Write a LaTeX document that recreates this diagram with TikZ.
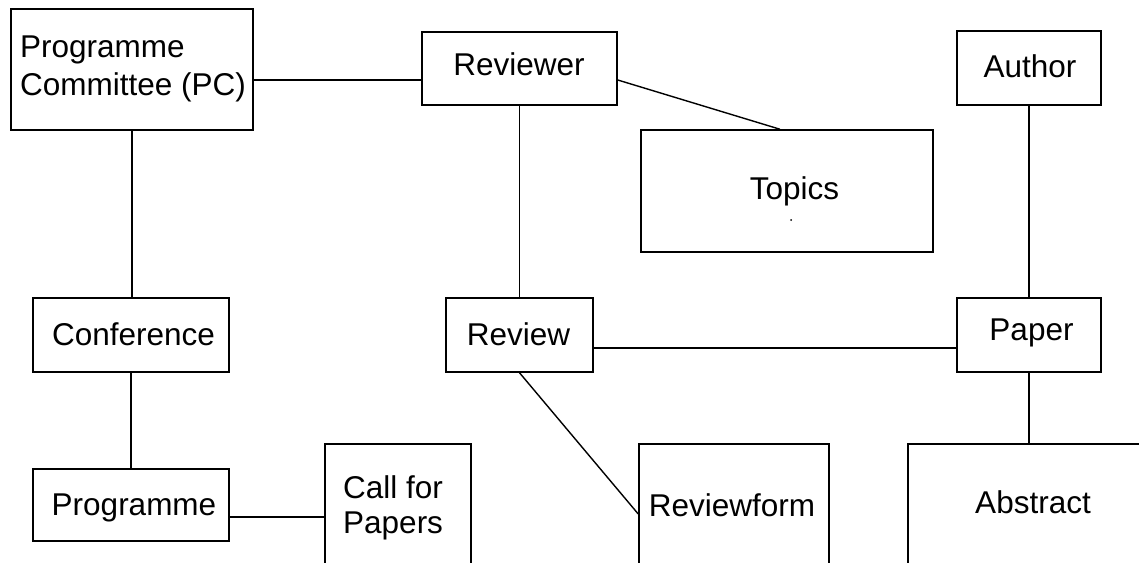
\documentclass[tikz,border=0pt]{standalone}
\usepackage{fontspec}
\setmainfont{Liberation Sans}
\begin{document}
\begin{tikzpicture}[x=1pt,y=-1pt,
  box/.style={draw, line width=1.5pt, inner sep=0pt},
  link/.style={line width=1.4pt},
  lbl/.style={anchor=base, inner sep=0pt, font=\fontsize{31.5}{38}\selectfont}]
\useasboundingbox (0,0) rectangle (1139,562);
\clip (0,0) rectangle (1139,562);

% entity boxes
\node[box, minimum width=242pt, minimum height=121pt] (pc) at (132,69.5) {};
\node[box, minimum width=195pt, minimum height=73pt] (reviewer) at (519.5,68.5) {};
\node[box, minimum width=144pt, minimum height=74pt] (author) at (1029,68) {};
\node[box, minimum width=292pt, minimum height=122pt] (topics) at (787,191) {};
\node[box, minimum width=196pt, minimum height=74pt] (conference) at (131,335) {};
\node[box, minimum width=147pt, minimum height=74pt] (review) at (519.5,335) {};
\node[box, minimum width=144pt, minimum height=74pt] (paper) at (1029,335) {};
\node[box, minimum width=196pt, minimum height=72pt] (programme) at (131,505) {};
\node[box, minimum width=146pt, minimum height=156pt] (cfp) at (398,522) {};
\node[box, minimum width=190pt, minimum height=156pt] (reviewform) at (734,522) {};
\node[box, minimum width=252pt, minimum height=156pt] (abstract) at (1034,522) {};

% labels
\node[lbl, anchor=base west] (pcA) at (20,57) {Programme};
\node[lbl, anchor=base west] (pcB) at (20,95) {Committee (PC)};
\node[lbl] (reviewerT) at (519,75) {Reviewer};
\node[lbl] (authorT) at (1030,77) {Author};
\node[lbl] (topicsT) at (794.5,199) {Topics};
\fill (791,220) circle (1pt);
\node[lbl] (conferenceT) at (133.5,345) {Conference};
\node[lbl] (reviewT) at (518.5,345) {Review};
\node[lbl] (paperT) at (1031.5,340) {Paper};
\node[lbl] (programmeT) at (134,515) {Programme};
\node[lbl, anchor=base west] (cfpA) at (343,498) {Call for};
\node[lbl, anchor=base west] (cfpB) at (343,533) {Papers};
\node[lbl] (reviewformT) at (732,516) {Reviewform};
\node[lbl] (abstractT) at (1033,513) {Abstract};

% relationships
\draw[link] ([yshift=-10.5pt]pc.east) -- ([yshift=-11.5pt]reviewer.west);
\draw[link] ([yshift=-11.5pt]reviewer.east) -- ([xshift=-7pt]topics.north);
\draw[link] (pc.south) -- (pc.south |- conference.north);
\draw[link] (conference.south) -- (programme.north);
\draw[link] ([yshift=-12pt]programme.east) -- ([yshift=-12pt]programme.east -| cfp.west);
\draw[link] (reviewer.south) -- (review.north);
\draw[link] ([yshift=-13pt]review.east) -- ([yshift=-13pt]review.east -| paper.west);
\draw[link] (review.south) -- ([yshift=8pt]reviewform.west);
\draw[link] (author.south) -- (paper.north);
\draw[link] (paper.south) -- (paper.south |- abstract.north);
\end{tikzpicture}
\end{document}
